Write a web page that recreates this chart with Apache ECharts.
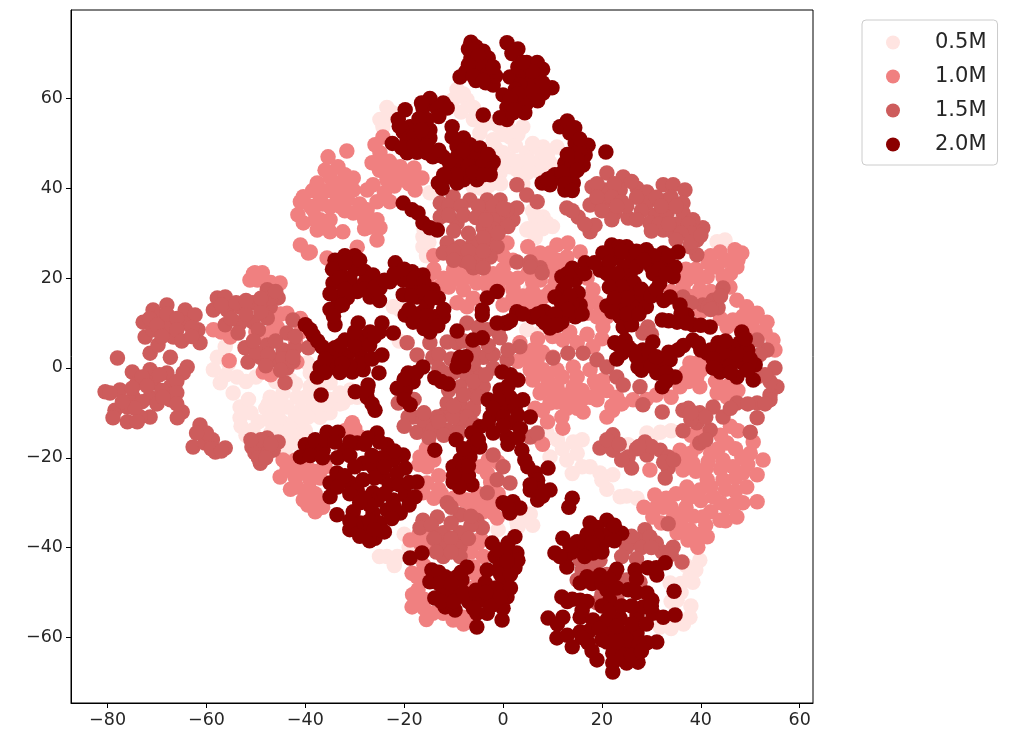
<!DOCTYPE html>
<html>
<head>
<meta charset="utf-8">
<title>t-SNE scatter</title>
<script src="https://cdn.jsdelivr.net/npm/echarts@6/dist/echarts.min.js"></script>
<style>
  html, body { margin: 0; padding: 0; background: #fff; }
  #plot { width: 1010px; height: 746px; }
</style>
</head>
<body>
<div id="plot"></div>
<script>
"use strict";

var categories = ['0.5M', '1.0M', '1.5M', '2.0M'];
var colours = ['#ffe4e1', '#f08080', '#cd5c5c', '#8b0000'];
var xTicks = [-80, -60, -40, -20, 0, 20, 40, 60];
var yTicks = [-60, -40, -20, 0, 20, 40, 60];

// Values.
var points05 = [
  [-58.6,-0.4],[-57.8,2.4],[-57.2,-3.3],[-53.8,-2],[-54.6,-5.6],[-53.2,-8.7],[-53.2,-11.1],[-56.2,4.7],[-50,-2],
  [-47.1,-6.5],[-44.5,-5.6],[-41.7,-6.5],[-39,-4.2],[-46.5,-9.4],[-43.7,-8.7],[-41,-9.4],[-38.4,-8.7],[-44.5,-12.2],[-41,-12.2],
  [-49.5,-12],[-50.6,-13.8],[-43.7,-15.4],[-45.7,-13.8],[-42.5,-16.7],[-35,-10],[-32.4,-7.8],[-29.5,-6.5],[-39.6,1.1],[-35,-3.3],
  [-30.9,-4.9],[-39,-1.1],[-43,-2.7],[-33,-5.6],[-35.6,-10],[-22.2,13.6],[-20.8,12.9],
  [-9.3,62],[-7.3,59.7],[-10.1,59.7],[-22.4,56.8],[-24.9,55.3],[-24.3,53.7],[-6,55.3],[-2.6,54.6],[4,53.7],[1.4,51.4],[-2,50.8],
  [0,47.9],[1.4,44.8],[4.8,47.9],[8.1,49.2],[10.9,49.2],[6.9,45.7],[-0.6,43.4],[2.8,44.1],[-2,41.2],[-6,40.3],[9.5,45.7],
  [8.1,33.6],[8.9,32.3],[6.5,33.6],[4.8,30.7],[-16.2,29.2],[-16.2,27],[-14.8,39],[-4.7,52.3],[7.5,32.3],[7.5,48.6],[6,45.7],[4,43.4],
  [44.9,28.5],[43.3,28.1],[4,15.8],[5.5,17.4],[4.8,8.5],[7.5,7.8],
  [8.9,-14.5],[14.2,-16.5],[9.5,-19.8],[12.9,-20.5],[17.6,-22],[19.6,-23.4],[22.2,-23.8],[23.7,-28.7],[27.1,-29],[29.1,-14.5],
  [31.8,-14.3],[25.3,-17.1],[37.8,-46.5],[38.4,-47.7],[39.8,-42.8],[37.8,-55.5],[35.2,-51.7],[31.8,-57.7],[33.8,-47.9],
  [-23.5,-42],[-21.4,-42],[4.8,-33.9],[5.5,-32.5],[2.8,-34.3],
  [-56,-1.5],[-55.5,1],[-52,-3],[-51.5,-7],[-51,-10],[-48,-9],[-46,-3],[-42,-3.5],[-37,-6],[-37,-11],[-45,-7],[-47.5,-8],[-42,-10.5],[-39.5,-11],[-43,-13.5],
  [-47.5,-11.5],[-45.5,-11],[-33,-8],[-31,-6.5],[-40,-14],[-41,-15],[-36,-8],[-37,-4],[-53,-13],[-52,-15],[-44,-18],[-35,-7],[-47,-14.5],[-40,-6.5],
  [-8,61],[-6,58],[-8.5,57],[-4,54],[-1,54],[1,53.5],[3,52],[2.5,49.5],[0,52],[-1.5,49],[1.5,46.5],[3,46],[6,50],[5,46],[9,47.5],[-0.5,45.5],[-3,40.5],[-0.5,41],
  [-4.5,40],[4,41],[5,43.5],[7.5,43.5],[-23,56],[-23.5,58],[5,31],[6,35],[8,31],[10,31.5],[6.5,29],[-16,31],[-15,28],[-15.5,25],
  [11,-16],[12,-18],[15,-19],[16,-16],[16,-22],[14,-23.5],[21,-27],[25,-28.5],[20,-25],[30,-15.5],[34,-14],[39,-45],[37,-44],[36,-48],[36,-50],[34,-52],[38,-53],[36.5,-57],[34,-58],
  [-22,-44],[-25,-42],[-19,-40],[-20,-37],[3,-35.5],[-1,-36],[6,-35],[-21,6]
];
var points10 = [
  [-31.6,48.3],[-35.4,47],[-33.4,44.8],[-37.6,41.2],[-34,41.2],[-30.3,42.3],[-26.3,40.8],[-27.5,39.6],[-40.4,38.1],[-37,38.1],[-33.6,38.1],
  [-30.3,39.6],[-41,37],[-41.5,34.1],[-38.4,35.2],[-35,35.9],[-40.4,32.3],[-37.6,30.7],[-35,30.3],[-32.4,30.3],[-41,27.4],[-39,25.8],
  [-25.9,49.7],[-24.3,51.4],[-26.5,45.7],[-24.3,45.7],[-24.9,47.9],[-20.8,44.8],[-18.8,43],[-16.4,42.3],[-20.2,41.9],[-17.8,39.6],[-23.5,41.9],
  [-25.5,37],[-22.9,37],[-30.3,34.5],[-27.5,35.2],[-25.5,33],[-26.9,31.4],[-24.9,31.2],[-25.5,28.5],
  [-39.4,25.6],[-35.6,24.5],[-29.5,26.9],
  [-50.2,21.2],[-51.2,19.6],[-48.7,21.2],[-45.1,18.9],[-49.7,19.6],[-58.6,8.5],[-55.2,6.9],[-43.7,12.2],[-45.7,9.1],[-49.7,6.9],
  [-55.4,1.6],[-48.5,-0.9],[-41.7,1.3],
  [-43.7,-22.7],[-41,-22.3],[-45.1,-24.3],[-30.9,-13.1],[-28.9,-15.4],[-43,-22.7],[-41,-23.4],[-39,-22.7],[-44.5,-20.5],[-41.7,-26.5],
  [-39,-27.2],[-40.4,-29.4],[-38,-32],[-37.6,-29.4],[-30.5,-12.2],
  [-10.1,19.6],[-8,17.4],[-9.3,14.5],[-7.3,13.6],[-5.3,18.9],[-14,22],[-12,20],[-15,18],[-8,22],[-3,20],[-1,18],[0,14],[2,18],[4,16],[6,19],[7,15],[3,20],
  [5,27],[7.5,25.6],[10.9,27.4],[13.1,27.8],[15.6,25.8],[12.9,24.7],[9.5,25.6],[7.5,19.6],[9.5,21.8],[8.1,15.8],[0.8,27.8],[2,17.4],[-0.6,19.6],[5.5,14.5],
  [18.2,17.4],[19,11.4],[17,12.2],[20.2,9.1],[21,11.4],[12.1,6.2],[15,5.6],[18.2,4.7],
  [6,4],[5.5,-0.4],[3.4,5.6],[8.1,-0.4],[10.9,-0.4],[14.2,0.2],[17.6,-0.4],[20.2,-2.7],[10.9,-4.2],[14.2,-4.2],[17.6,-6.5],[6,-2.7],[7.9,-4.9],
  [23,-6.5],[26.3,-7.1],[35.8,-4.2],[39.2,-2],[39.8,-4.2],[43.3,-5.6],[45.3,-6.5],[37.8,1.1],
  [41.5,23.4],[43.9,25.8],[46.9,26.3],[48.3,25.6],[47.3,22.5],[43.3,22.5],[41.3,20.3],[44.5,20.3],[45.9,18],[39.8,17.4],[36.4,18],[37.2,19.6],[39.2,15.1],
  [47.3,15.1],[49.3,13.6],[51.4,12.2],[53.4,10.2],[47.9,9.1],[46.5,10.7],[45.3,9.1],[54.6,6.2],
  [52.6,-20.5],[50.6,-16.5],[48.3,-19.8],[45.3,-16.7],[46.5,-22],[51.4,-23.8],[48.5,-23.4],[44.5,-24.9],[49.3,-26.5],[51.4,-29.8],[48.5,-30],[45.3,-31],
  [41.3,-24.9],[41.5,-20.9],[38.4,-21.2],[36.4,-22.7],[39.2,-17.6],[35.8,-18.3],[37.2,-26.5],[39.8,-27.2],[42.5,-28.7],[47.3,-33.2],[43.9,-33.9],[40.4,-33.2],
  [41.3,-37.6],[37.8,-36],[36.4,-32.3],[34.4,-34.5],[37.4,-38.3],[30.7,-28.3],[32.4,-31],[30.3,-33.2],[35.2,-36.7],[39.4,-39.9],
  [16.2,-9.8],[11.9,-10.9],[12.1,-13.4],[21,-10.9],[22.2,-9.4],[10.9,-7.6],[14.2,-7.1],[19,-7.1],[29.7,-22.7],
  [-18.4,-53.2],[-17.2,-49.4],[-14.2,-54.6],[-10.1,-56.1],[-17.4,-46.5],[-18.4,-45.7],[-8.1,-55.5],[-12.1,-54.6],[-6,-44.3],[-16.8,-39],[-18.8,-38.3],[-1.2,-33.4],
  [-8,-29.4],[-15.4,-22],[-16.8,-19.8],[-16.2,-27.8],[-15.4,-25.6],[-7.3,-29.4],[-3.2,-23.4],[-2,-32.3],
  [6.9,1.8],[8.9,-2],[10.1,2.4],[7.5,-5.6],[9.5,-7.8],[6.9,-15.4],
  [-36,44],[-35,42.5],[-32,43],[-38.5,39.5],[-35.5,39.5],[-32,40],[-39,36],[-36.5,36.5],[-33,36],[-31.5,37.5],[-37,33],[-38,33],[-35,33],[-36,32],[-32,35],[-29,36.5],[-28,33],[-28,31],
  [-25,44],[-22.5,43.5],[-23,46],[-22,40.5],[-19,41],[-18,44.5],[-24,39],
  [-14,25],[-14.5,21],[-13,18],[-11,18],[-10,22],[-6,20],[-8,20],[-6,15.5],[-2,21],[-3,18],[0,22],[2,24],[1,20],[3,14],[6,17],[2,15.5],[5,21],[6,24],[0,25],[8,24],[11,24],[10.5,19],[9.5,17],[7.5,13.5],[9,24],[12,22.5],
  [17,20],[17.5,15],[19,14.5],[20,6.5],[17,7.5],[13.5,8],[10,7],[7,6.5],[8,3.5],[3,1.5],[4.5,2],[6.5,-1],[12,-2],[15,-2],[18.5,-3],[21,-5],[12.5,-6],[9,-2.5],[16,-5],[15,-9],[19,-4],[24,-8],[22,-8.5],[13,-9],[16,-7],
  [39,22],[37,22],[42,25],[39.5,20],[42,17],[41,15.5],[35,20.5],[45,24],[46,21],[47.5,24],[37.5,16],[34,17],[40,-0.5],[41,1.5],[43,-3],[45.5,-4],[47.5,-5],[37,-1],[37.5,-3],[39,1],[31,-6],[29,-7],[34,-6.5],
  [48.5,11.5],[50.5,10.5],[52,8],[50,8.5],[53,8],[55,4],[44,11],[40,12.5],
  [40,-15],[38,-15],[44,-15],[46,-13],[47.5,-14],[43.5,-18],[42,-19],[44.5,-20.5],[47,-18],[50,-19],[49.5,-21.5],[41,-22.5],[39,-23],[36,-20],[38,-19],[44,-22.5],[47,-24.5],[42,-26.5],[45,-27],[47,-27.5],
  [40,-29.5],[37.5,-29],[35,-28],[37,-31],[34,-31],[44,-30],[46.5,-30.5],[42,-32],[38.5,-33],[34.5,-33],[31,-31],[33,-29],[41,-35],[39,-37],[36,-34.5],[32,-34.5],[45,-34],[28.5,-31],
  [-47,12],[-45,12],[-41,11],[-57,8],[-50,8],[-47,8],[-41,8],[-42,6],[-47,-1.5],[-50.5,21],[-47,19],
  [-44,-21],[-42,-20.5],[-40,-21],[-42,-24.5],[-43,-27],[-39,-25],[-37,-24.5],[-39.5,-30.5],[-36.5,-31],[-40,-27.5],[-38,-28],[-37.5,-23],[-36,-22],[-32,-14],[-30,-13.5],
  [-15.5,-18],[-14,-20.5],[-13,-24],[-13,-27],[-14,-29],[-17,-21.5],[-15,-17],[-5,-30],[-4,-32],[-3,-29.5],[-2,-30.5],[-1,-21],[-3,-20.5],[-2.5,-25.5],[-4.5,-22],[-5,-28],[-1,-28],[-10,-29],[-12.5,-28],[-6.5,-31.5],
  [-16,-51.5],[-15.5,-47],[-16,-44],[-17,-42],[-15,-40],[-17,-37],[-15.5,-56],[-8,-57],[-6,-55],[-6,-49],[-5.5,-46],[-6.5,-41],[-5,-39],[-4.5,-38],[-18.3,-50.5],[-16,-53.5],[-4,-42],[-14.5,-37],
  [6.5,-9],[8,-9.5],[9,-12],[10,-5],[8,-17]
];
var points15 = [
  [-78,2.2],[-80.5,-5.3],[-75,-0.9],[-71.4,-0.4],[-63.9,0.2],[-67.3,2.4],[-68,-1.1],[-64.7,-1.1],[-74,-3.3],[-70.8,-3.3],[-67.3,-4.2],[-77.5,-4.9],
  [-74.8,-6.5],[-71.4,-6.5],[-78.5,-9.4],[-76,-12],[-78.9,-11.1],[-76,-8.7],[-71.4,-10.9],[-73.4,-10.9],[-67.3,-7.1],[-64.9,-9.8],[-65.9,-11.1],[-79.5,-5.6],
  [-68,14],[-70.8,12.9],[-72.8,10.2],[-72.4,6.9],[-69.4,11.4],[-66.7,6.9],[-68,9.1],[-64.3,12.9],[-62.3,11.8],[-64.7,10],[-61.7,8.5],[-61.3,5.6],[-71.4,3.3],[-69.8,5.1],[-70.8,8.5],
  [-57.8,15.6],[-56.2,15.8],[-58.6,12.9],[-55.8,12.9],[-53.2,13.6],[-50.6,14.5],[-47.7,17.4],[-45.5,15.6],[-47.1,13.6],[-47.7,11.1],[-50.6,10.2],[-53.2,10],[-56.2,9.6],[-53.6,7.8],
  [-52.2,4.5],[-51.6,1.3],[-47.7,5.1],[-43.7,7.8],[-49.1,2.4],[-46.5,1.8],[-44.5,4],[-42.1,4.5],[-43.7,0],[-44.1,-3.3],[-42.5,10.7],[-39.4,4.5],
  [-61.3,-12.7],[-62.7,-17.6],[-60.3,-16.7],[-58.2,-18.7],[-56.2,-17.8],[-58.8,-16],[-50.8,-17.6],[-47.7,-15.6],[-45.5,-16.5],[-49.1,-21.2],[-48.5,-18.3],[-50.2,-18.9],[-46.5,-18.3],
  [-12.7,36.7],[-10.1,38.1],[-6.7,37.4],[-3.2,37.4],[-0.6,37.4],[-12.7,33.6],[-9.3,32.3],[-3.2,34.5],[-0.6,33.6],[2,33],[2.8,35.6],[-4,31.2],[-0.6,31.4],
  [-11.3,27.8],[-8.7,27],[-12.1,25.6],[-6,27.8],[-2.6,28.5],[-1.2,27],[-5.3,24.7],[-2.6,24.7],[-8,24],[-6,22.3],[-4,22.3],[2.8,40.8],[4.8,38.5],[6.9,37],
  [2.8,23.6],[5.5,23.6],[7.5,22.3],[0.8,35.2],
  [12.9,35.6],[15.2,33.6],[17.6,30.3],[18.6,31.8],[18,40.3],[21,43.4],[24.3,42.5],[20.6,39.6],[23.7,39.6],[27.1,40],[29.1,39.2],[17.6,36.3],[20.2,36.7],[22.6,34.5],[25.3,33.4],
  [29.1,36.7],[32.4,40.8],[34.4,40.8],[36.8,39.6],[33.2,37.4],[36.4,36.7],[30.7,34],[33.2,34.5],[29.7,32.3],[32.4,30.7],[34.4,30.3],[36.4,34.5],[40.4,31.2],[38.4,33],[39.2,28.5],[39.2,25.2],[37.8,27],
  [44.5,17.8],[42.5,15.1],[43.5,13.4],[40.4,14],[36.4,15.8],[29.3,9.1],[28.3,7.8],
  [10.1,2.2],[13.1,3.3],[16.2,3.3],[19,1.8],[21,0.2],[23,-2],[24.3,-3.8],[27.7,-4.2],[5.5,22.5],[7.9,21.2],[53.4,4],[55,0],[55.4,-4.2],[51.4,6.2],[51.4,-2],[54,-6],
  [22.2,-14.9],[19.6,-17.8],[22.2,-18.3],[25.3,-19.8],[26,-22.3],[28.7,-16.5],[29.1,-19.4],[31.8,-18.3],[33.4,-19.8],[33.4,-22.3],[32.8,-24.5],
  [28.3,-8.2],[32.2,-9.8],[36.4,-9.4],[39.8,-10],[42.5,-8.7],[39.2,-12.2],[41.9,-13.8],[39.8,-16.7],[36.4,-14],[50,-14.3],[51.4,-11.1],[44.5,-10.9],[47.3,-7.8],[51.4,-7.8],[54,-7.1],
  [-18.2,-10.9],[-15.4,-11.6],[-12.1,-10.5],[-8.7,-9.4],[-6,-9.4],[-17.4,-14.3],[-14.8,-13.4],[-11.3,-13.8],[-8.7,-12.2],
  [-14.2,2.4],[-11.3,5.8],[-4,2.4],[-0.6,6.7],[-7.3,10],[-3.2,8.5],[-5.3,-1.1],[-7.3,-2],[-8.7,-4.2],[-4,-4.2],[-6,-5.6],[-11.3,-7.8],[-8.7,-7.8],[-6,-8.7],
  [-16.2,-11.6],[-13.3,-10.9],[-10.1,-10.9],[-7.3,-10.9],[-14.2,-13.8],[-21.2,-7.8],[-19.2,-10.9],[-19.4,5.6],[-17.4,2.9],[3.4,4.7],[0.8,1.8],[-9.3,5.6],[-14.8,5.6],
  [-2,-19.4],[0,-22],[-1.2,-24.9],[-3.2,-27.8],[1.4,-25.6],[5.5,-15.4],[6.9,-14.5],
  [-16.2,-33.9],[-11.3,-30],[-8.7,-32.7],[-5.3,-33.9],[-4.2,-35.6],[-13.3,-33.2],[-12.1,-36.7],[-8.7,-36.7],[-12.1,-39.9],[-8.7,-39.9],[-12.1,-42],[-8.7,-42],[-16.8,-35.6],
  [28.7,-36],[27.1,-38.3],[25,-39.9],[29.7,-37.6],[34.4,-39.9],[36.2,-43.2],[32.2,-41],[33.4,-34.7],[15.6,-42.8],[19.6,-42.8],[15,-47.2],[27.7,-47.7],[25,-47.2],[19,-52.3],[23,-51],
  [-73,-2],[-69.5,-1.5],[-66,-3],[-72,-4],[-69,-5],[-66,-5.5],[-75,-4.5],[-73,-7.5],[-70,-8],[-74.5,-9],[-77,-7.5],[-68.8,-6.5],[-74,-12],[-66,-8],[-68,12],[-71.5,11],[-70,9.5],[-66,11],[-63,9],[-66,8.5],[-65,6],[-63,7],[-69,7],
  [-57,14],[-54,14.5],[-52,12],[-49,12.5],[-55,11],[-52,15],[-47,15.5],[-49,15.5],[-46,17],[-49.5,8.5],[-50,3.5],[-47.5,3],[-44.5,2],[-42.5,1.5],[-48,0.5],[-45,-0.5],[-42.5,2.5],[-46,6],[-42,7],[-50.5,6],
  [-60,-14.5],[-59,-18],[-57,-18.5],[-62,-14.5],[-49,-16],[-47,-17],[-49.5,-20],[-48,-20],[-51,-16],
  [-11,36],[-8.5,36],[-5,36],[-2,36],[0,35.5],[-11,34],[-8,34],[-5.5,33.5],[-2,33],[1,31.5],[-2,31],[-10,30.5],[-7,30],[-4,29],[-10,26],[-7,26],[-7,23.5],[-10,24],[-4,26],[-1,30],[-3.5,33],
  [19,41],[22.5,41],[26,41.5],[19,38],[22,38],[24,37],[27,38],[31,38],[34,38],[35,36],[32,36],[28,35],[27,33],[31.5,32],[35,32],[37.5,32],[38,30],[36,30],[35,28.5],[38,28],[40,29.5],[30,30.5],[20,35],[22,33],[16.5,32],[14,35],[33.5,32],[25,36],[23,36],
  [41.5,13.5],[38,14.5],[42,13],[44,16],[30,7.5],
  [21,-16],[23.5,-17],[24,-20.5],[27,-18],[30,-17.5],[32.5,-21],[27.5,-17.5],[34.5,-20.5],[38,-11.5],[41,-11],[37.5,-9],[41,-16],[38,-10],[46,-9],[49.5,-8],[53,-8],[54,-3],[53,-1.5],[52,3],
  [-13,3],[-13,0],[-10.5,2],[-10,-1],[-6,1],[-2,3],[-2,0],[1,4],[-6,4],[-8,6],[-5,9],[-1,8],[-3,5],[-12,-1],[-11,-5],[-8,-6],[-6,-3],[-16,-10],[-13,-12],[-10,-8.5],[-5,-6.5],[-3.5,-1.5],[-18,-7],
  [-20,-13],[-12,-15],[-9,-14.5],[-6,-12.5],[-15,-15.5],
  [-10.5,-31],[-14.5,-35],[-10.5,-34.5],[-6.5,-35],[-10.5,-38],[-14,-38],[-10.5,-41],[-13.5,-41],[-7,-38],[-6.5,-33],
  [26,-37.5],[28,-40],[31,-39],[34,-41.5],[24,-42],[30,-40],[16,-45],[18,-44],[27,-42.5],[21,-46],[23,-48],[20,-50.5]
];
var points20 = [
  [-6.5,72.5],[-5.5,71.5],[-4,70.5],[-3,69],[-6.5,69],[-5,68],[-3,67],[-6.5,66.5],[-4.5,65.5],[-2.5,65],[-7.5,66],[-5.5,64],[-3.5,63.5],[-2,63],[-8.7,64.8],[-1.5,65],
  [0.8,72.4],[3,71],[1.8,70],[4.8,68],[6.9,68],[8,66.5],[1.4,64.8],[4,65.7],[6,64],[9.9,62.4],[8.1,61.2],[4.8,62],[0,60.8],[2.8,59.7],[4.8,59],[0.8,58],[4.4,56.8],[0.8,55.3],[-0.6,55.7],[2,56.8],[-4,56.3],
  [-19.8,57.5],[-14.8,60],[-12.1,59],[-11.3,57.9],[-16.2,57.9],[-21.2,55.3],[-15.4,55.3],[-18.8,53.7],[-20.2,52.6],[-14.8,53],[-22.4,50],[-19.4,50.8],[-16.8,50.8],[-14.8,51.2],[-19.4,47.9],[-17.4,48],[-15.4,47.9],[-14.2,47],
  [-10.3,53.7],[-10.3,51.4],[-8,51.2],[-9.3,49.3],[-6.7,49.7],[-4.7,49],[-12.1,47],[-9.3,47],[-6.7,47],[-4,47],[-2,45.9],[-10.7,44.5],[-8,44.8],[-5.3,44.8],[-2.6,44.8],[-2.6,43],[-5.3,41.9],[-8,41.9],[-10.7,42.5],[-13.1,41.2],[-12.3,40],[-9.3,41.2],
  [-20.2,36.7],[-18.4,35.2],[-17.2,34.5],[-16.2,32.3],[-14.8,31.2],[-13.3,30.7],
  [11.5,53.7],[13,55],[14.5,53.5],[13.5,52.3],[14.6,50],[17.2,49.6],[20.8,48.1],[16.6,47.4],[16.2,45.2],[12.5,45.6],[10.5,43],[7.9,41.2],[14,43],[12.5,39.6],[14.2,41.2],[9.5,40.8],[12.1,41.9],[10,42.5],
  [22,27.4],[25,27],[20.2,25.6],[23,24.5],[26,24.5],[19.6,21.8],[25.7,21],[29,26.3],[32.4,25.6],[35.4,25.8],[30,22.5],[32.4,23.4],[34.8,22.5],[34.4,20.3],[30.4,21],[31.7,18.9],
  [16.6,23.4],[14,22.2],[11.9,20.3],[14.6,19.6],[12.1,17.4],[10.5,15.8],[15.2,16.7],[15.6,14],[14,14.5],[14.6,11.4],[12.5,12.5],
  [2.8,12.5],[0.4,10],[5.9,11.4],[8.1,12.5],[9.5,8.9],[9.9,11.1],[7.9,10.7],[11.9,10.2],
  [22.2,19.6],[25,19.6],[23,17.4],[26.3,17.4],[27.7,15.1],[21,13.8],[23.7,14.5],[26.3,13.6],[29,13.6],[23.7,11.4],[24.3,9.1],[26,9.6],
  [33.8,15.8],[35.8,14],[37.2,11.8],[32.2,10.7],[35.2,10.2],[38.4,9.6],[41.9,9.1],
  [22.6,5.6],[24.7,6.2],[24.1,3.3],[25.3,4.7],[28.3,4],[30.3,5.8],[27.3,0.2],[29,1.8],[31.1,-1.1],[32.4,1.1],[34.8,-2],[32.2,-4.2],[33.8,1.8],[35.4,4],[38.4,6.2],
  [41.3,3.3],[43.5,5.6],[43.9,1.1],[45.9,2.4],[48.3,8],[47.9,5.6],[49.5,4],[46.5,4.7],[51,0.7],[48.5,1.1],[47.3,-2],[50.6,-2.7],[43.9,-0.9],
  [-34,24],[-32,25],[-30,25],[-33,22],[-30,22],[-28,21.5],[-34.4,18.9],[-33.6,15.8],[-33.6,13.6],[-34,9.6],[-30.5,18.5],[-26.3,20.7],[-24.9,17.8],[-22.9,19.2],[-26.9,15.8],[-29.5,17],[-31.5,15.6],
  [-21.8,23.4],[-18.4,21.4],[-16.2,20.7],[-20.2,19.6],[-18.2,18],[-20.2,16.3],[-17.4,15.8],[-14.2,17.4],[-13.1,15.6],[-19.8,11.8],[-18.2,10.2],[-16.2,12.5],[-12.1,11.4],[-14.8,8],[-16.2,10],[-13.8,11.4],[-15.4,14],
  [-40,9.6],[-38.4,7.3],[-36.6,4.7],[-34,4.5],[-32,6.2],[-29.3,10],[-28.5,6.9],[-24.5,10],[-22.2,7.8],[-26.9,8],[-24.5,2.9],[-28.9,3.3],[-31.5,2.9],[-34.4,2.4],[-37,0.2],[-37.6,-2],[-34.4,0.2],[-30.5,-0.9],[-28.3,-0.4],
  [-36.8,-6],[-29.9,-5.3],[-27.3,-3.8],[-25.1,-1.1],[-27.5,-6.5],[-25.9,-9.4],
  [-21.4,-4.5],[-19.2,-1.1],[-16.2,0.2],[-18.2,-3.1],[-18.8,-8.2],[-19.8,-4.9],[-13.8,-2.2],[-11.1,-3.6],
  [-9.3,8.2],[-6.1,6.2],[-4.2,6.7],[-8.7,2.4],[-9.3,0.2],[-8,0.5],
  [-1.2,17],[-3.2,15.6],[-4.2,12.9],[-4.2,11.8],[-1.2,10],[0.8,10],[2.8,12.2],[6,11.4],[8.5,12.5],
  [-0.2,-0.9],[3,-2.7],[-0.6,-4.9],[-3,-7.1],[1.4,-6.5],[4,-7.1],[0.8,-8.7],[5.5,-10.9],[-2.6,-10.9],[2,-12.2],[-4.7,-13.1],[-6.3,-14.5],[-4.7,-17.6],[-9.5,-16],[-13.8,-18.3],
  [-8.7,-20.5],[-10.1,-22],[-6.7,-19.8],[-10.1,-25.4],[-6.3,-26],[-8.3,-24.3],[0.8,-15.4],[3.8,-18.3],[4.4,-20.5],[6.5,-23.4],[9.1,-22.3],[5.5,-27.2],[7,-29.4],[9.5,-27.2],
  [0,-30],[2,-29.8],[1.4,-32.3],[3.4,-31.2],[14,-29],[13.3,-31],
  [-35.6,-14.3],[-33.4,-14.3],[-40,-17.1],[-41,-19.8],[-38.4,-17.6],[-36.4,-18.3],[-32,-18.3],[-29.5,-16.7],[-25.5,-14.5],[-27.3,-15.6],[-23.5,-17.1],[-20.2,-19.4],[-22.2,-20.5],[-19.8,-22.3],[-17.4,-25.4],
  [-28.3,-21.2],[-26.3,-22],[-33.6,-23.4],[-35,-25.6],[-35,-28.7],[-30.9,-25.6],[-28.3,-24.9],[-24.3,-24.3],[-29.5,-27.2],[-26.3,-27.8],[-33.6,-32.7],[-30.3,-32],[-25.5,-29.4],[-22.2,-29.4],[-19.8,-28.3],[-17.8,-28.7],
  [-23.5,-31.6],[-26.3,-32.3],[-20.8,-32.3],[-28.9,-34.5],[-24.9,-34.5],[-28.3,-36],[-29,-37.5],[-25.9,-37.9],[-27,-38.5],[-24,-36.5],[-31,-36],
  [-18.8,-42.3],[-16.4,-41.2],[-14.4,-45],[-14.8,-47.6],[-13.8,-51.2],[-11.7,-53.2],[-9.7,-53.9],[-11.7,-46.5],[-9.3,-46.5],[-7.3,-44.3],[-12.1,-49.4],[-9.7,-50.1],[-8.3,-47.2],
  [-2.2,-39],[2.4,-37.6],[-1.6,-42],[2.8,-41.2],[0.4,-41.2],[2.4,-44.5],[-3.2,-45],[-0.6,-44.3],[-3.6,-47.9],[0,-47.9],[-7,-52],[-4.7,-51.7],[-2,-51.7],[0.8,-51],[0,-53.5],[-5.3,-54.6],[-3.2,-54.6],[-0.2,-56.1],[-5.3,-57.7],
  [17.6,-34.5],[21,-33.9],[24,-36.8],[21.6,-36.8],[12.1,-37.9],[15,-38.7],[18.2,-41.2],[20.2,-39],[10.5,-41.2],[12.9,-41.7],[12.9,-44.3],[16.2,-39.9],
  [23,-44.8],[26.7,-45],[29.3,-44.5],[32.8,-43.4],[31.1,-46.1],[17,-46.5],[15.6,-47.9],[19.6,-46.1],[21,-49.4],[25.3,-49.4],[29.1,-50.1],[30.1,-51.7],[34.6,-49.7],[11.9,-51],[15.6,-51.7],[21.6,-51.7],
  [9.1,-55.7],[12.1,-55.5],[15.6,-55.5],[18.2,-56.1],[21,-56.1],[23.7,-55.7],[27.1,-55],[30.3,-54.6],[34.8,-55],[32.4,-55.5],[28.3,-53.2],
  [10.9,-60.1],[14,-62.1],[15.6,-58.8],[17.2,-61.2],[19,-65],[21.6,-59],[24.3,-59],[27.1,-59],[31.1,-61],[29.1,-61.2],[22.2,-63.5],[25,-62.8],[27.3,-65.5],[25,-65.7],[22.2,-67.7],[22.2,-65.7],
  [-7,71],[-5,69.5],[-4,67],[-7,67.5],[-6,65],[-3,65.5],[-4,64],[-2,67],[3,67],[3.5,63],[2.5,62],[6,66],[8,63.5],[6,61.5],[3,61],[1.5,60],[7,59.5],[4,68],[2.3,57.5],
  [-17,55.5],[-18,51.5],[-16.5,53],[-20.5,49],[-18,49.5],[-21,53.8],[-13.3,57.7],[-16.5,59],[-13,56],[-15.5,49.5],[-13,48.5],
  [-9,45],[-7,45],[-4,45.5],[-11,46],[-8,48.5],[-6,43.5],[-9.5,43],[-4,43],[-12,43],[-3,47.5],
  [15.5,48.5],[15,46.5],[14,45],[12,43.5],[15,44],[13,47.5],[12.5,41],[14,39.5],[9,42],[15.5,51],
  [23.5,27],[21,25.5],[24,26],[27,26],[21.5,23.5],[24.5,22.5],[21,21],[27,22.5],[23,21],[30.5,25],[33.5,25],[28.5,24],[31.5,22],[33,21],[26.5,19],[24,18],[21.5,18],[25,15.5],[22.5,15.5],[28,17.5],[30,16],[25,12],[22,12.5],[27.5,12],
  [18.5,23.4],[13,21],[12.8,18.8],[13.5,16],[11.8,14.5],[16.5,21],[13,13],[16,12],
  [31,17.5],[36,12],[33.5,10.5],[37,10],[40,9.5],[32.5,15],[4,12],[1.5,10.5],[7,12],[10.5,12],[11,9.5],[8.5,10],
  [23.5,5],[23,2],[26,4],[27,2.5],[29.5,3.5],[28,-0.5],[30,0.5],[31,2.5],[33,-1],[33,-3],[33.5,3.5],[36.5,5],[39.5,5.5],[40,4],[42,4],[44.5,3.5],[46,0.5],[42.5,2],[45,6],[49,6.5],[47.5,3],[50,2],[49.5,-0.5],[46,-1],[42.5,0],
  [-32,23.5],[-29,24],[-34.5,22],[-31,20],[-33,20],[-28,19],[-32,17.5],[-28,17.5],[-26,18],[-24,19.5],[-35,16.5],[-35,13],[-32.5,14],[-34.3,11.5],[-25,15],
  [-20,22],[-18,20],[-22,21],[-16,19],[-18.5,16],[-16,17],[-14.5,15.5],[-15.5,11.5],[-18,12],[-19,13],[-12,13],[-14,10],[-16,8.8],[-13.2,9.4],
  [-39,8.5],[-37.5,6],[-35.5,3.5],[-33,3.5],[-30,5],[-30,8],[-33,5],[-27,5],[-29,1],[-26.5,2],[-31,0.5],[-32.5,1],[-36,2],[-36,-1],[-33,-1],[-25,8],[-26,7],[-27.5,-5],[-26.5,-8],
  [-20,-2.5],[-17.5,-1],[-20,-7],[-12.5,-3],[-9,1.5],[-7.5,2.5],
  [1.5,-1.5],[1,-4],[-1,-7],[-2,-9],[2.5,-8.5],[3,-10.5],[0,-11],[0,-13],[-3,-12.5],[-2,-14.5],[1,-17],[3.5,-13.5],[-6,-17],[-8,-18],[-5,-16],[-8,-22],[-7,-24],[-8.8,-26.5],[-10,-24],[-7,-21.8],
  [5,-22],[7,-25],[7.5,-27],[3,-15.5],[5.5,-26],[8,-28.5],[1,-31],
  [-38,-16],[-36,-16],[-34,-16.5],[-31,-16.5],[-39,-19.5],[-36.5,-20],[-33.5,-20],[-31,-19.5],[-28,-17],[-25,-16.5],[-22,-18.5],[-24.5,-20],[-26.5,-19.5],[-24,-22],[-21.5,-23.5],[-30,-22],[-32,-24],[-26,-24.5],[-23,-26],[-21,-26],[-19,-25.5],
  [-31,-28],[-33.5,-26.5],[-28,-29],[-24,-28],[-27,-30.5],[-29,-30],[-22,-31],[-19,-30.5],[-31,-34],[-27,-34],[-22.5,-33.5],[-26,-36],
  [-13,-45.5],[-13,-48],[-11,-50],[-10.5,-48],[-12.5,-52],[-10,-52],[-8,-50],[-8.5,-45.5],[-1,-40.5],[1,-39],[-0.5,-46],[1.5,-46],[-1.5,-49],[-5.5,-49.5],[1.5,-49],[-2.5,-53],[-3.5,-50],[-0.5,-51],[-6,-53.5],[3,-42.8],[0.8,-43],
  [19,-35.5],[22.5,-35],[19,-37.5],[17,-37],[14,-41],[16.5,-42],[20,-41],[22.5,-38.5],[13.5,-39.5],[11.5,-42],[18,-39],
  [18,-48],[20,-48],[22.5,-46],[21.5,-47],[27,-47],[31,-44.5],[23,-49],[27,-50],[14,-51.5],[13,-52],[17,-52],[20,-53],[21.5,-54],[24,-53],[26,-53],[30,-53],[16,-54],
  [11,-57],[13,-59.5],[17.5,-58.5],[19.5,-58],[23,-57.5],[26,-57],[29,-57],[25,-60.5],[21,-61],[27.5,-61.5],[23,-61],[24,-64.5],[18,-63],[20,-60.5],[26,-64],[28,-63],[16,-60]
];
var seriesPoints = [points05, points10, points15, points20];

var chart = echarts.init(document.getElementById('plot'), null, { renderer: 'canvas' });

function minusLabel(value) {
  return String(value).replace('-', '\u2212');
}

chart.setOption({
  animation: false,
  backgroundColor: '#fff',
  textStyle: { fontFamily: 'DejaVu Sans' },
  grid: { left: 71, top: 10, width: 742, height: 693, show: true, borderColor: '#000', borderWidth: 1, backgroundColor: '#fff' },
  xAxis: {
    type: 'value', min: -87.4, max: 62.7, splitLine: { show: false },
    axisLine: { onZero: false, lineStyle: { color: '#000' } },
    axisTick: { length: 5, customValues: xTicks, lineStyle: { color: '#000' } },
    axisLabel: { customValues: xTicks, color: '#262626', fontSize: 17.5, margin: 8, formatter: minusLabel }
  },
  yAxis: {
    type: 'value', min: -74.6, max: 79.7, splitLine: { show: false },
    axisLine: { onZero: false, lineStyle: { color: '#000' } },
    axisTick: { length: 5, customValues: yTicks, lineStyle: { color: '#000' } },
    axisLabel: { customValues: yTicks, color: '#262626', fontSize: 17.5, margin: 8, formatter: minusLabel }
  },
  legend: {
    data: categories, orient: 'vertical', left: 862, top: 20, selectedMode: false,
    padding: [12, 11, 10, 24], itemWidth: 14, itemHeight: 14, itemGap: 13,
    backgroundColor: '#fff', borderColor: '#ccc', borderWidth: 1, borderRadius: 4,
    textStyle: { color: '#262626', fontSize: 21, padding: [0, 0, 6, 30] }
  },
  series: categories.map(function (name, i) {
    return {
      name: name, type: 'scatter', data: seriesPoints[i], symbol: 'circle', symbolSize: 15.5,
      itemStyle: { color: colours[i], opacity: 1 }, z: 2 + i
    };
  })
});
</script>
</body>
</html>
